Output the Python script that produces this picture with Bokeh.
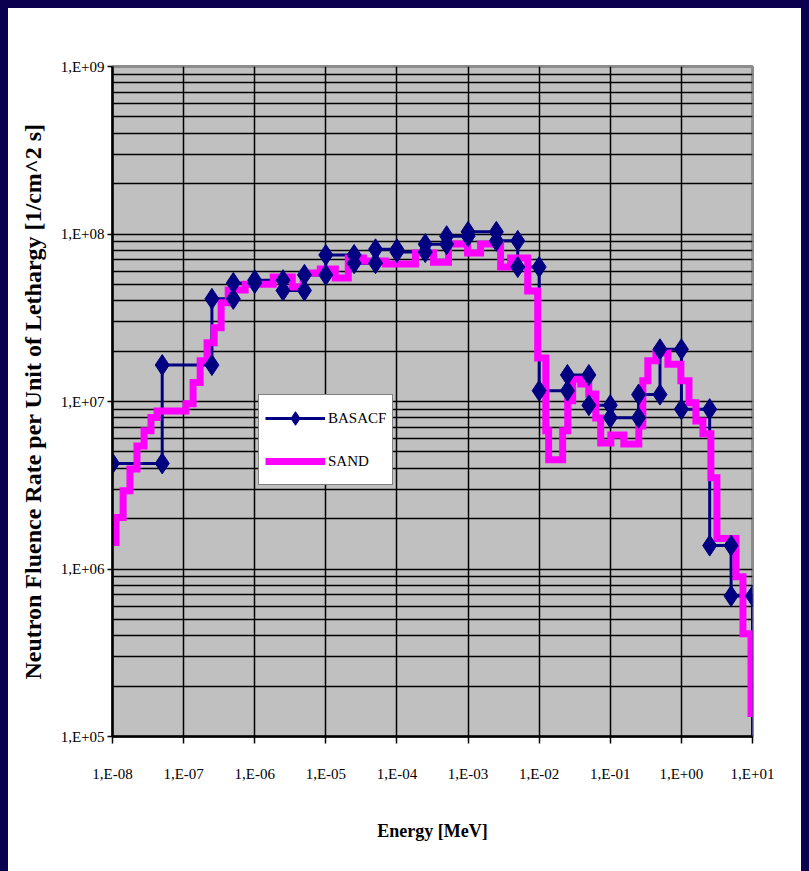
from bokeh.plotting import figure
from bokeh.models import FixedTicker, CustomJSTickFormatter, Legend, LegendItem
from bokeh.embed import file_html
from bokeh.resources import INLINE

# ---------------- data ----------------
# BASACF: histogram bins (edges in MeV, values in 1/cm^2 s per unit lethargy)
basacf_edges = [1e-8, 5e-8, 2.5e-7, 5e-7, 1e-6, 2.5e-6, 5e-6, 1e-5, 2.5e-5, 5e-5,
                1e-4, 2.5e-4, 5e-4, 1e-3, 2.5e-3, 5e-3, 1e-2, 2.5e-2, 5e-2, 0.1,
                0.25, 0.5, 1.0, 2.5, 5.0, 10.0]
basacf_values = [4.27e6, 1.65e7, 4.1e7, 5.1e7, 5.3e7, 4.6e7, 5.7e7, 7.5e7, 6.7e7, 8.1e7,
                 7.8e7, 8.7e7, 9.7e7, 1.03e8, 9.1e7, 6.35e7, 1.16e7, 1.44e7, 9.5e6, 8.0e6,
                 1.1e7, 2.05e7, 9.0e6, 1.38e6, 6.9e5]
basacf_tail = 1e4

# SAND: finer histogram
sand_edges = [8.93e-9, 1.12e-8, 1.41e-8, 1.76e-8, 2.21e-8, 2.78e-8, 3.48e-8, 4.24e-8,
              1.08e-7, 1.36e-7, 1.71e-7, 2.14e-7, 2.69e-7, 3.37e-7, 4.24e-7, 7.34e-7,
              1.82e-6, 3.37e-6, 4.82e-6, 8.37e-6, 1.36e-5, 2.07e-5, 3.37e-5, 6.89e-5,
              1.82e-4, 3.27e-4, 5.31e-4, 9.84e-4, 1.50e-3, 2.87e-3, 3.97e-3, 6.89e-3,
              9.53e-3, 1.24e-2, 1.36e-2, 2.14e-2, 2.52e-2, 2.96e-2, 3.85e-2, 4.98e-2,
              6.25e-2, 7.34e-2, 0.102, 0.155, 0.252, 0.287, 0.337, 0.438,
              0.646, 0.984, 1.28, 1.60, 2.01, 2.60, 3.16, 5.86,
              7.34, 9.53, 11.6]
sand_values = [1.44e6, 2.03e6, 2.93e6, 3.96e6, 5.43e6, 6.68e6, 8.02e6, 8.79e6,
               9.68e6, 1.30e7, 1.75e7, 2.24e7, 2.76e7, 3.89e7, 4.63e7, 5.02e7,
               5.53e7, 4.82e7, 5.85e7, 6.18e7, 5.46e7, 7.19e7, 6.89e7, 6.62e7,
               7.69e7, 6.79e7, 8.71e7, 7.69e7, 8.71e7, 6.35e7, 7.19e7, 4.56e7,
               1.82e7, 6.68e6, 4.49e6, 6.68e6, 1.01e7, 1.36e7, 1.27e7, 1.11e7,
               7.98e6, 5.66e6, 6.32e6, 5.58e6, 7.14e6, 1.33e7, 1.75e7, 1.95e7,
               1.67e7, 1.33e7, 9.82e6, 7.66e6, 6.41e6, 3.50e6, 1.52e6, 9.0e5,
               4.11e5, 1.37e5]
sand_start = 9.4e5
sand_tail = 5e4

x_ticks = [1e-8, 1e-7, 1e-6, 1e-5, 1e-4, 1e-3, 1e-2, 1e-1, 1e0, 1e1]
y_ticks = [1e5, 1e6, 1e7, 1e8, 1e9]

# ---------------- step coordinates ----------------
bx, by = [], []
for i, v in enumerate(basacf_values):
    bx += [basacf_edges[i], basacf_edges[i + 1]]
    by += [v, v]
mx, my = list(bx), list(by)          # markers at bin ends
bx.append(basacf_edges[-1]); by.append(basacf_tail)

sx, sy = [sand_edges[0]], [sand_start]
for i, v in enumerate(sand_values):
    sx += [sand_edges[i], sand_edges[i + 1]]
    sy += [v, v]
sx.append(sand_edges[-1]); sy.append(sand_tail)

y_minor = [k * d for d in y_ticks[:-1] for k in range(2, 10)]

# ---------------- figure ----------------
p = figure(width=793, height=863, x_axis_type="log", y_axis_type="log",
           x_range=(1e-8, 1e1), y_range=(1e5, 1e9),
           output_backend="svg", toolbar_location=None,
           min_border_left=104, min_border_right=49,
           min_border_top=58, min_border_bottom=135,
           background_fill_color="#C0C0C0", border_fill_color="white",
           outline_line_color="#8c8c8c", outline_line_width=3)
p.margin = (8, 8, 0, 8)
p.styles = {"outline": "8px solid #0b0050"}

blue_line = p.line(bx, by, line_color="#000080", line_width=3)
sand_line = p.line(sx, sy, line_color="#FF00FF", line_width=7, line_join="miter")
blue_pts = p.scatter(mx, my, marker="diamond", size=21, color="#000080")

# axes
p.xaxis.ticker = FixedTicker(ticks=x_ticks)
p.yaxis.ticker = FixedTicker(ticks=y_ticks, minor_ticks=y_minor)
fmt = """
const e = Math.round(Math.log10(tick));
const s = (e < 0 ? '-' : '+') + String(Math.abs(e)).padStart(2, '0');
return '1,E' + s;
"""
p.xaxis.formatter = CustomJSTickFormatter(code=fmt)
p.yaxis.formatter = CustomJSTickFormatter(code=fmt)

for ax in (p.xaxis[0], p.yaxis[0]):
    ax.axis_line_color = "black"
    ax.axis_line_width = 2.5
    ax.major_tick_line_color = "black"
    ax.major_tick_line_width = 1.5
    ax.major_tick_in = 0
    ax.minor_tick_line_color = None
    ax.major_label_text_font = "Liberation Serif"
    ax.major_label_text_font_size = "15px"
    ax.major_label_text_color = "black"
    ax.axis_label_text_font = "Liberation Serif"
    ax.axis_label_text_font_style = "bold"
    ax.axis_label_text_color = "black"

p.xaxis.major_tick_out = 7
p.xaxis.major_label_standoff = 22
p.xaxis.axis_label = "Energy [MeV]"
p.xaxis.axis_label_text_font_size = "18px"
p.xaxis.axis_label_standoff = 36

p.yaxis.major_tick_out = 5
p.yaxis.major_label_standoff = 3
p.yaxis.axis_label = "Neutron Fluence Rate per Unit of Lethargy [1/cm^2 s]"
p.yaxis.axis_label_text_font_size = "24px"
p.yaxis.axis_label_standoff = 12

# grid
p.xgrid.grid_line_color = "black"
p.xgrid.grid_line_width = 1.5
p.ygrid.grid_line_color = "black"
p.ygrid.grid_line_width = 1.5
p.ygrid.minor_grid_line_color = "black"
p.ygrid.minor_grid_line_width = 1.5

# legend
legend = Legend(items=[LegendItem(label="BASACF", renderers=[blue_line, blue_pts]),
                       LegendItem(label="SAND", renderers=[sand_line])],
                location=(146, 251), margin=0, padding=6, spacing=9,
                glyph_width=60, glyph_height=34, label_standoff=3,
                label_text_font="Liberation Serif", label_text_font_size="15px",
                label_text_color="black",
                border_line_color="black", border_line_width=1.5,
                background_fill_color="white", background_fill_alpha=1.0)
p.add_layout(legend)

open("out.html", "w").write(file_html(p, INLINE))
